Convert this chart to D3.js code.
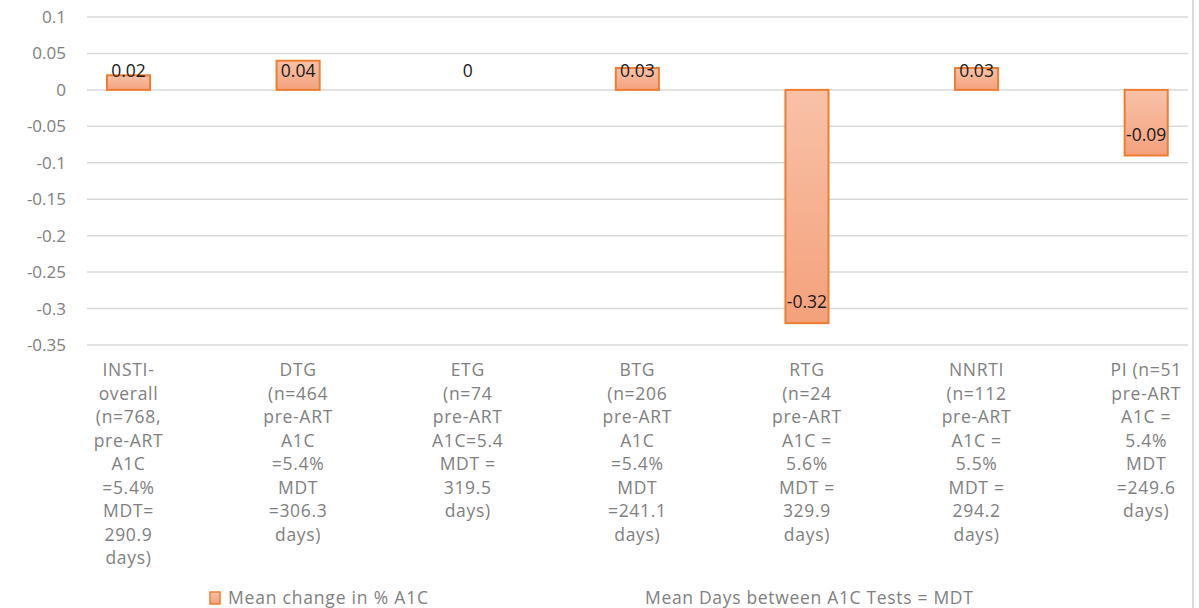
<!DOCTYPE html>
<html>
<head>
<meta charset="utf-8">
<script src="https://cdn.jsdelivr.net/npm/d3@7/dist/d3.min.js"></script>
<style>
  html, body { margin: 0; padding: 0; background: #fff; }
  svg { display: block; }
  text { font-family: "Open Sans", Lato, sans-serif; }
</style>
</head>
<body>
<svg id="chart" width="1199" height="608"></svg>
<script>
// Category labels, one entry per wrapped line
const categoryLines = [
  ["INSTI-", "overall", "(n=768,", "pre-ART", "A1C", "=5.4%", "MDT=", "290.9", "days)"],
  ["DTG", "(n=464", "pre-ART", "A1C", "=5.4%", "MDT", "=306.3", "days)"],
  ["ETG", "(n=74", "pre-ART", "A1C=5.4", "MDT =", "319.5", "days)"],
  ["BTG", "(n=206", "pre-ART", "A1C", "=5.4%", "MDT", "=241.1", "days)"],
  ["RTG", "(n=24", "pre-ART", "A1C =", "5.6%", "MDT =", "329.9", "days)"],
  ["NNRTI", "(n=112", "pre-ART", "A1C =", "5.5%", "MDT =", "294.2", "days)"],
  ["PI (n=51", "pre-ART", "A1C =", "5.4%", "MDT", "=249.6", "days)"]
];
const categoryKeys = ["INSTI", "DTG", "ETG", "BTG", "RTG", "NNRTI", "PI"];
const meanChange = [0.02, 0.04, 0, 0.03, -0.32, 0.03, -0.09];
const yTicks = [0.1, 0.05, 0, -0.05, -0.1, -0.15, -0.2, -0.25, -0.3, -0.35];
const seriesName = "Mean change in % A1C";
const noteText = "Mean Days between A1C Tests = MDT";

const svg = d3.select("#chart");

const gridLeft = 87, gridRight = 1188;
const y = d3.scaleLinear().domain([-0.35, 0.1]).range([345, 17]);
const x = d3.scaleBand().domain(categoryKeys).range([43.7, 1231]).paddingInner(0.746).paddingOuter(0.373);

// gradient for bars
const defs = svg.append("defs");
const grad = defs.append("linearGradient").attr("id", "barFill")
  .attr("x1", 0).attr("y1", 0).attr("x2", 0).attr("y2", 1);
grad.append("stop").attr("offset", "0%").attr("stop-color", "#f8c2a8");
grad.append("stop").attr("offset", "100%").attr("stop-color", "#f4a17c");

// right frame edge
svg.append("line")
  .attr("x1", 1193).attr("x2", 1193).attr("y1", 0).attr("y2", 608)
  .attr("stroke", "#d9d9d9").attr("stroke-width", 2);

// gridlines
svg.append("g").selectAll("line").data(yTicks).join("line")
  .attr("x1", gridLeft).attr("x2", gridRight)
  .attr("y1", d => y(d)).attr("y2", d => y(d))
  .attr("stroke", "#d9d9d9").attr("stroke-width", 1.5);

// y-axis tick labels
svg.append("g").selectAll("text").data(yTicks).join("text")
  .attr("x", 66).attr("y", d => y(d)).attr("dy", "0.35em")
  .attr("text-anchor", "end").attr("font-size", 17).attr("fill", "#808080")
  .text(d => d === 0 ? "0" : String(d));

// bars
svg.append("g").selectAll("rect").data(meanChange.map((v, i) => ({k: categoryKeys[i], v})))
  .join("rect")
  .filter(d => d.v !== 0)
  .attr("x", d => x(d.k))
  .attr("width", x.bandwidth())
  .attr("y", d => y(Math.max(0, d.v)))
  .attr("height", d => Math.abs(y(d.v) - y(0)))
  .attr("fill", "url(#barFill)")
  .attr("stroke", "#ed7d31").attr("stroke-width", 2);

// value labels: positives sit just above the zero line, negatives inside the bar end
svg.append("g").selectAll("text").data(meanChange.map((v, i) => ({k: categoryKeys[i], v})))
  .join("text")
  .attr("x", d => x(d.k) + x.bandwidth() / 2)
  .attr("y", d => d.v >= 0 ? y(0) - 19 : y(d.v) - 21)
  .attr("dy", "0.35em")
  .attr("text-anchor", "middle").attr("font-size", 17.5).attr("fill", "#1a1a1a")
  .text(d => d.v === 0 ? "0" : String(d.v));

// category labels
const catG = svg.append("g").selectAll("text").data(categoryLines.map((lines, i) => ({k: categoryKeys[i], lines})))
  .join("text")
  .attr("text-anchor", "middle").attr("font-size", 17.5).attr("letter-spacing", 0.7)
  .attr("fill", "#808080");
catG.selectAll("tspan").data(d => d.lines.map(l => ({k: d.k, l})))
  .join("tspan")
  .attr("x", d => x(d.k) + x.bandwidth() / 2)
  .attr("y", (d, i) => 370 + i * 23.5)
  .attr("dy", "0.35em")
  .text(d => d.l);

// legend
const lg = svg.append("g");
lg.append("rect").attr("x", 210).attr("y", 592).attr("width", 10).attr("height", 12)
  .attr("fill", "url(#barFill)").attr("stroke", "#ed7d31").attr("stroke-width", 1.5);
lg.append("text").attr("x", 228).attr("y", 598).attr("dy", "0.35em")
  .attr("font-size", 17.5).attr("letter-spacing", 0.8).attr("fill", "#808080").text(seriesName);
lg.append("text").attr("x", 645).attr("y", 598).attr("dy", "0.35em")
  .attr("font-size", 17.5).attr("letter-spacing", 0.68).attr("fill", "#808080").text(noteText);
</script>
</body>
</html>
